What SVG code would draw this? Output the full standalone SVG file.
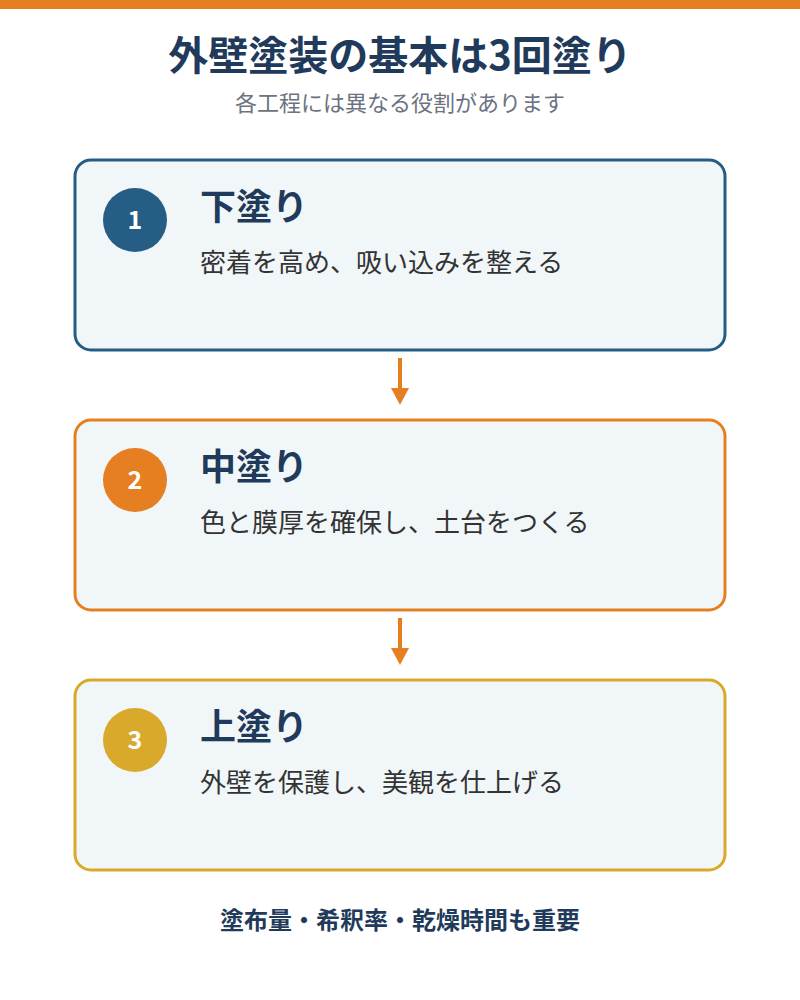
<svg xmlns="http://www.w3.org/2000/svg" width="800" height="1000" viewBox="0 0 800 1000">
<defs>
<style>
text{font-family:"Noto Sans CJK JP","Noto Sans",sans-serif}
.box{fill:#f1f6f9;stroke-width:3}
.num{fill:#fff;font-size:25px;font-weight:700;text-anchor:middle}
.h{fill:#1f3a5a;font-size:36px;font-weight:700}
.d{fill:#333;font-size:26px}
.con{stroke:#e67e22;stroke-width:4;fill:none}
</style>
</defs>
<rect width="800" height="1000" fill="#fff"/>
<rect width="800" height="9" fill="#e67e22"/>
<text x="400" y="70" text-anchor="middle" font-size="40" font-weight="700" fill="#1f3a5a">外壁塗装の基本は3回塗り</text>
<text x="400" y="111" text-anchor="middle" font-size="22" fill="#6b7280">各工程には異なる役割があります</text>
<g id="step1">
<rect class="box" x="75" y="160" width="650" height="190" rx="16" stroke="#265d85"/>
<circle cx="135" cy="220" r="32" fill="#265d85"/>
<text class="num" x="135" y="229">1</text>
<text class="h" x="200" y="220">下塗り</text>
<text class="d" x="200" y="272">密着を高め、吸い込みを整える</text>
</g>
<g id="step2">
<rect class="box" x="75" y="420" width="650" height="190" rx="16" stroke="#e67e22"/>
<circle cx="135" cy="480" r="32" fill="#e67e22"/>
<text class="num" x="135" y="489">2</text>
<text class="h" x="200" y="480">中塗り</text>
<text class="d" x="200" y="532">色と膜厚を確保し、土台をつくる</text>
</g>
<g id="step3">
<rect class="box" x="75" y="680" width="650" height="190" rx="16" stroke="#d9a92b"/>
<circle cx="135" cy="740" r="32" fill="#d9a92b"/>
<text class="num" x="135" y="749">3</text>
<text class="h" x="200" y="740">上塗り</text>
<text class="d" x="200" y="792">外壁を保護し、美観を仕上げる</text>
</g>
<g id="connectors">
<path class="con" d="M400,358 L400,392"/>
<path class="con" d="M400,618 L400,652"/>
<path d="M391,388 L409,388 L400,405 Z" fill="#e67e22"/>
<path d="M391,648 L409,648 L400,665 Z" fill="#e67e22"/>
</g>
<text x="400" y="929" text-anchor="middle" font-size="24" font-weight="700" fill="#1f3a5a">塗布量・希釈率・乾燥時間も重要</text>
</svg>
